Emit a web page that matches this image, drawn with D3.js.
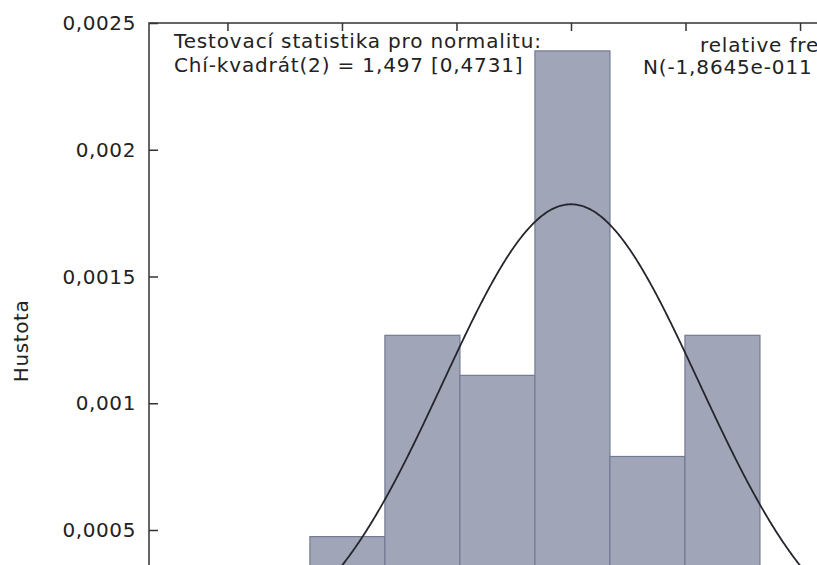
<!DOCTYPE html>
<html>
<head>
<meta charset="utf-8">
<script src="https://cdn.jsdelivr.net/npm/d3@7"></script>
<style>
  html, body { margin: 0; padding: 0; background: #fff; overflow: hidden; }
  svg { display: block; }
  text { font-family: "DejaVu Sans", Verdana, sans-serif; fill: #222; }
</style>
</head>
<body>
<svg id="chart" width="817" height="565"></svg>
<script>
// ---- data ----
const binEdges   = [-456, -325, -194, -63, 68, 199, 330];
const densities  = [0.000474, 0.001268, 0.00111, 0.00239, 0.00079, 0.001268];
const yTicks     = [0.0005, 0.001, 0.0015, 0.002, 0.0025];
const yTickLabels = ["0,0005", "0,001", "0,0015", "0,002", "0,0025"];
const xTicks     = [-600, -400, -200, 0, 200, 400, 600];
const normMean   = -1.8645e-11;
const normSd     = 223.5;
const testLines  = ["Testovací statistika pro normalitu:", "Chí-kvadrát(2) = 1,497 [0,4731]"];
const legendLines = ["relative frequency", "N(-1,8645e-011 223,5)"];
const yLabel     = "Hustota";

(function () {
const svg = d3.select("#chart");
const pLeft = 149, pTop = 23, pRight = 993, pBottom = 656.75;

const x = d3.scaleLinear().domain([-737, 737]).range([pLeft, pRight]);
const y = d3.scaleLinear().domain([0, 0.0025]).range([pBottom, pTop]);

// bars
const bins = densities.map((d, i) => ({x0: binEdges[i], x1: binEdges[i + 1], v: d}));
svg.append("g").selectAll("rect").data(bins).join("rect")
  .attr("x", d => x(d.x0))
  .attr("y", d => y(d.v))
  .attr("width", d => x(d.x1) - x(d.x0))
  .attr("height", d => y(0) - y(d.v))
  .attr("fill", "#a0a6b7")
  .attr("stroke", "#737a93")
  .attr("stroke-width", 1.2);

// normal curve
const pdf = v => Math.exp(-0.5 * Math.pow((v - normMean) / normSd, 2)) / (normSd * Math.sqrt(2 * Math.PI));
const curvePts = d3.range(-737, 737.1, 2).map(v => [v, pdf(v)]);
svg.append("path")
  .datum(curvePts)
  .attr("fill", "none")
  .attr("stroke", "#25252d")
  .attr("stroke-width", 1.8)
  .attr("d", d3.line().x(d => x(d[0])).y(d => y(d[1])));

// frame
svg.append("path")
  .attr("d", `M${pLeft},${pBottom + 10}V${pTop}H${pRight}`)
  .attr("fill", "none").attr("stroke", "#333").attr("stroke-width", 1.5);

// left y axis (ticks inward)
const yAxis = d3.axisRight(y).tickValues(yTicks).tickSize(9).tickFormat("");
const gy = svg.append("g").attr("transform", `translate(${pLeft},0)`).call(yAxis);
gy.select(".domain").remove();
gy.selectAll("line").attr("stroke", "#333").attr("stroke-width", 1.5);

// y tick labels
svg.append("g").selectAll("text").data(yTicks).join("text")
  .attr("x", 136)
  .attr("y", d => y(d))
  .attr("dy", "0.35em")
  .attr("text-anchor", "end")
  .style("font-size", "20px")
  .style("letter-spacing", "0.6px")
  .text((d, i) => yTickLabels[i]);

// top mirrored x ticks (inward)
const xAxisTop = d3.axisBottom(x).tickValues(xTicks).tickSize(8).tickFormat("");
const gx = svg.append("g").attr("transform", `translate(0,${pTop})`).call(xAxisTop);
gx.select(".domain").remove();
gx.selectAll("line").attr("stroke", "#333").attr("stroke-width", 1.5);

// y label
svg.append("text")
  .attr("transform", `translate(28,341) rotate(-90)`)
  .attr("text-anchor", "middle")
  .style("font-size", "20px")
  .style("letter-spacing", "0.6px")
  .text(yLabel);

// test statistic text
svg.append("g").selectAll("text").data(testLines).join("text")
  .attr("x", 174)
  .attr("y", (d, i) => 48 + i * 24)
  .style("font-size", "20px")
  .style("letter-spacing", "0.85px")
  .text(d => d);

// legend
const legendX = [700, 643];
svg.append("g").selectAll("text").data(legendLines).join("text")
  .attr("x", (d, i) => legendX[i])
  .attr("y", (d, i) => 52 + i * 22)
  .style("font-size", "20px")
  .style("letter-spacing", "0.85px")
  .text(d => d);
})();
</script>
</body>
</html>
